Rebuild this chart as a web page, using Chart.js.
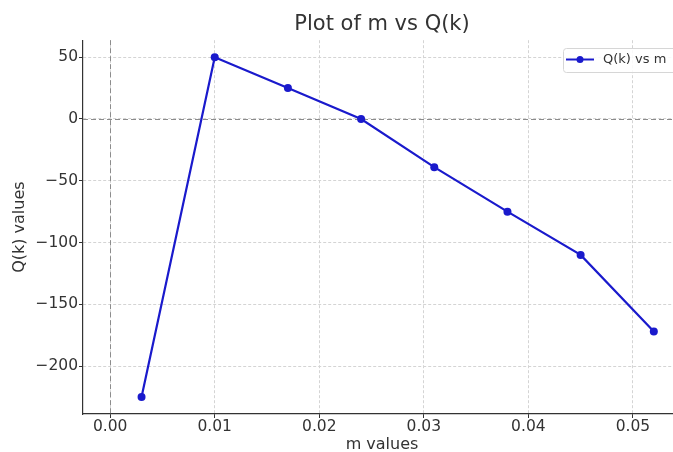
<!DOCTYPE html>
<html>
<head>
<meta charset="utf-8">
<script src="https://cdn.jsdelivr.net/npm/chart.js@4/dist/chart.umd.min.js"></script>
<style>
html,body{margin:0;padding:0;background:#fff;overflow:hidden}
#wrap{width:700px;height:452px;position:relative}
</style>
</head>
<body>
<div id="wrap"><canvas id="c" width="700" height="452"></canvas></div>
<script>
// data
var mVals=[0.003,0.010,0.017,0.024,0.031,0.038,0.045,0.052];
var qVals=[-225,50,25,0,-39,-75,-110,-172];
var xTicks=[0.00,0.01,0.02,0.03,0.04,0.05];
var yTicks=[-200,-150,-100,-50,0,50];
var seriesName='Q(k) vs m';

var FONT='"DejaVu Sans", sans-serif';
var LINE='#1a1acc';

// zero lines + legend box drawn over chart area
var extras={
    id:'extras',
    beforeDatasetsDraw:function(ch){
        var ctx=ch.ctx,a=ch.chartArea,x=ch.scales.x,y=ch.scales.y;
        ctx.save();
        ctx.strokeStyle='#8c8c8c';ctx.lineWidth=1;ctx.setLineDash([5,3]);
        var y0=Math.round(y.getPixelForValue(0))+0.5;
        ctx.beginPath();ctx.moveTo(a.left,y0);ctx.lineTo(a.right,y0);ctx.stroke();
        var x0=Math.round(x.getPixelForValue(0))+0.5;
        ctx.beginPath();ctx.moveTo(x0,a.top);ctx.lineTo(x0,a.bottom);ctx.stroke();
        ctx.restore();
    },
    afterDraw:function(ch){
        var ctx=ch.ctx;
        ctx.save();
        // legend box
        var bx=563,by=48,bw=140,bh=24;
        ctx.fillStyle='rgba(255,255,255,0.85)';
        ctx.strokeStyle='#d6d6d6';ctx.lineWidth=1;
        ctx.beginPath();
        if(ctx.roundRect)ctx.roundRect(bx+0.5,by+0.5,bw,bh,3);else ctx.rect(bx+0.5,by+0.5,bw,bh);
        ctx.fill();ctx.stroke();
        ctx.strokeStyle=LINE;ctx.lineWidth=2;
        ctx.beginPath();ctx.moveTo(566,59.5);ctx.lineTo(594,59.5);ctx.stroke();
        ctx.fillStyle=LINE;
        ctx.beginPath();ctx.arc(580,59.5,3.5,0,Math.PI*2);ctx.fill();
        ctx.fillStyle='#333';ctx.font='13px '+FONT;ctx.textBaseline='middle';
        ctx.fillText(seriesName,603,60);
        ctx.restore();
    }
};

new Chart(document.getElementById('c'),{
    type:'line',
    data:{datasets:[{
        label:seriesName,
        data:mVals.map(function(m,i){return {x:m,y:qVals[i]};}),
        borderColor:LINE,backgroundColor:LINE,borderWidth:2.2,
        pointRadius:4,pointHoverRadius:4,pointBackgroundColor:LINE,pointBorderWidth:0,
        tension:0
    }]},
    options:{
        responsive:false,animation:false,
        layout:{padding:{left:0,right:19,top:0,bottom:0}},
        plugins:{
            legend:{display:false},
            tooltip:{enabled:false},
            title:{display:true,text:'Plot of m vs Q(k)',fullSize:false,color:'#333',
                font:{family:FONT,size:21,weight:'normal'},padding:{top:12,bottom:3}}
        },
        scales:{
            x:{type:'linear',min:-0.0026,max:0.0546,
                afterBuildTicks:function(s){s.ticks=xTicks.map(function(v){return {value:v};});},
                afterFit:function(s){s.height=38;},
                ticks:{color:'#333',font:{family:FONT,size:15.5},padding:0,maxRotation:0,
                    callback:function(v){return v.toFixed(2);}},
                grid:{color:'#d4d4d4',tickColor:'#333',tickLength:4,tickBorderDash:[]},
                border:{display:true,color:'#333',width:1.2,dash:[3,2]},
                title:{display:true,text:'m values',color:'#333',font:{family:FONT,size:16,lineHeight:1},padding:{top:0,bottom:-1}}
            },
            y:{type:'linear',min:-238.75,max:63.75,
                afterBuildTicks:function(s){s.ticks=yTicks.map(function(v){return {value:v};});},
                afterFit:function(s){s.width=83;},
                ticks:{color:'#333',font:{family:FONT,size:15.5},padding:1,
                    callback:function(v){return v<0?'\u2212'+Math.abs(v):String(v);}},
                grid:{color:'#d4d4d4',tickColor:'#333',tickLength:4,tickBorderDash:[]},
                border:{display:true,color:'#333',width:1.2,dash:[3,2]},
                title:{display:true,text:'Q(k) values',color:'#333',font:{family:FONT,size:16},padding:{top:10,bottom:0}}
            }
        }
    },
    plugins:[extras]
});
</script>
</body>
</html>
